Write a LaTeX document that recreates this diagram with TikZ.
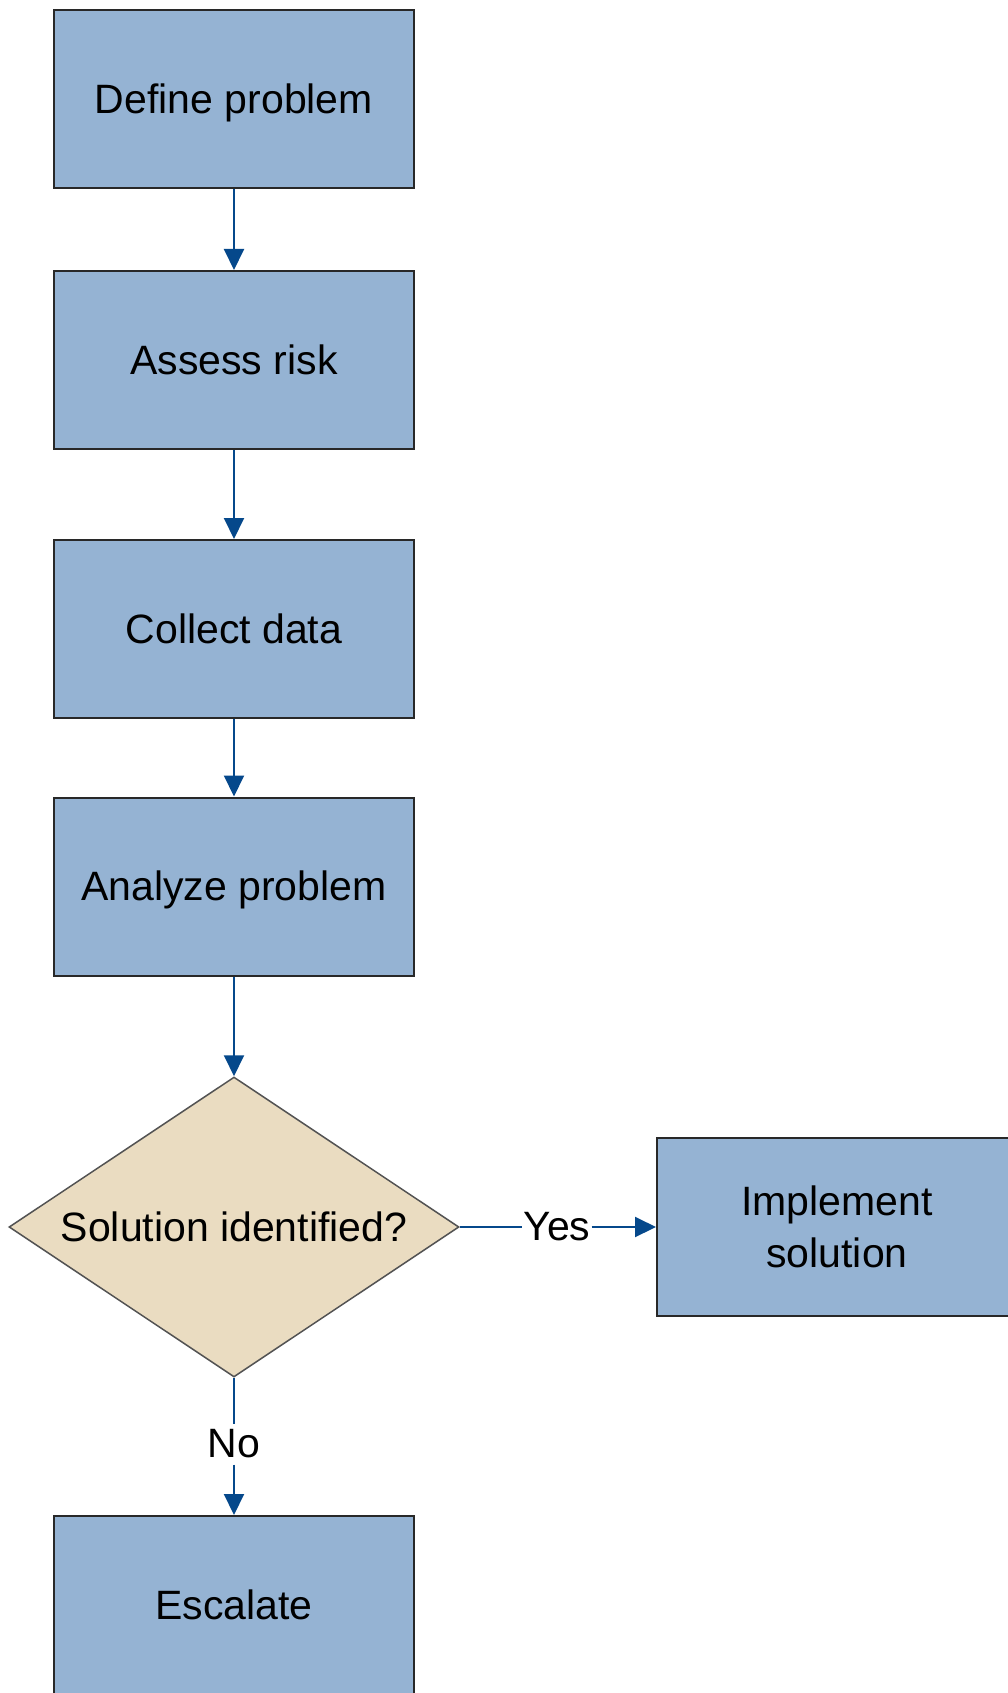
\documentclass[tikz,border=0pt]{standalone}
\usepackage{fontspec}
\setmainfont{Liberation Sans}
\usetikzlibrary{positioning,shapes.geometric,arrows.meta}
\definecolor{boxblue}{RGB}{149,179,211}
\definecolor{decisiontan}{RGB}{234,220,193}
\definecolor{flowblue}{RGB}{5,72,139}
\definecolor{edgegray}{RGB}{40,40,40}

\begin{document}
\begin{tikzpicture}[x=1pt,y=-1pt,
	basebox/.style={draw=edgegray,line width=2pt,fill=boxblue,minimum width=360pt,minimum height=178pt,align=center,inner sep=0pt},
	stepbox/.style={basebox,text height=37pt,text depth=8.6pt},
	decision/.style={diamond,aspect=1.5,draw=edgegray!80,line width=1.5pt,fill=decisiontan,minimum width=450pt,minimum height=300pt,inner sep=0pt,text height=37pt,text depth=8.6pt},
	flow/.style={line width=2pt,color=flowblue,-{Triangle[length=21pt,width=20pt]}},
	lbl/.style={inner sep=1pt},
	every node/.style={font=\fontsize{41}{52}\selectfont}]
%		\draw[lightgray,step=100] (0,0) grid (1007,1693);
		\useasboundingbox (0,0) rectangle (1007,1693);
		\node[stepbox] (define) at (234,99) {Define problem};
		\node[stepbox] (assess) at (234,360) {Assess risk};
		\node[stepbox] (collect) at (234,629) {Collect data};
		\node[stepbox] (analyze) at (234,886.5) {Analyze problem};
		\node[decision] (solved) at (234,1227) {Solution identified?};
		\node[basebox] (implement) at (837,1227) {Implement\\solution};
		\node[stepbox] (escalate) at (234,1605) {Escalate};
		\node[lbl] (yes) at (557,1227) {Yes};
		\node[lbl,inner ysep=6pt] (no) at (234,1444) {No};
		\draw[flow] (define) -- (assess);
		\draw[flow] (assess) -- (collect);
		\draw[flow] (collect) -- (analyze);
		\draw[flow] (analyze) -- (solved);
		\draw[line width=2pt,flowblue] (solved.east) -- (yes);
		\draw[flow] (yes) -- (implement);
		\draw[line width=2pt,flowblue] (solved.south) -- (no);
		\draw[flow] (no) -- (escalate);
	\end{tikzpicture}
\end{document}
